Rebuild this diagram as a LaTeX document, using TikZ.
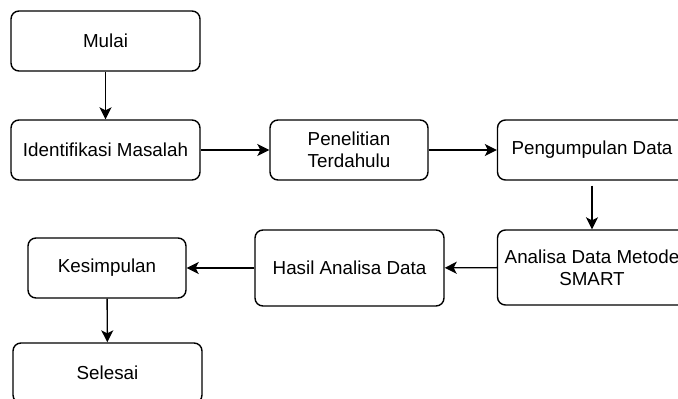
\documentclass[tikz,border=0pt]{standalone}
\usepackage{fontspec}
\setmainfont{Liberation Sans}
\usepackage{tikz}
\usetikzlibrary{arrows.meta}
\usetikzlibrary{positioning}

\begin{document}
\begin{tikzpicture}[x=1pt, y=-1pt]
          \tikzstyle{every node}=[draw, rounded corners=8pt, line width=1.4pt, align=center,
            inner sep=0pt, minimum height=60pt, font=\fontsize{18.8}{22}\selectfont]
          \tikzstyle{wide}=[minimum width=189pt]
          \tikzstyle{narrow}=[minimum width=158pt]
          \tikzstyle{flow}=[line width=1.4pt, -{Stealth[length=12pt,width=12pt,inset=3pt]}]
          \useasboundingbox (0,0) rectangle (678,399);
          \node[wide] (mulai) at (105.5,41) {Mulai};
          \node[wide] (ident) at (105.5,150) {Identifikasi Masalah};
          \node[narrow] (teori) at (349,150) {Penelitian\\Terdahulu};
          \node[wide] (kumpul) at (592,150) {Pengumpulan Data};
          \node[wide, minimum height=75pt] (smart) at (592,267.5) {Analisa Data Metode\\SMART};
          \node[wide, minimum height=76pt] (hasil) at (349.5,268) {Hasil Analisa Data};
          \node[narrow] (simpul) at (107,268) {Kesimpulan};
          \node[wide] (selesai) at (107.5,373) {Selesai};
          \tikzstyle{every node}=[]
          \draw[flow] (mulai) -- (ident);
          \draw[flow] (ident) -- (teori);
          \draw[flow] (teori) -- (kumpul);
          \draw[flow, shorten <=5pt] (kumpul) -- (smart);
          \draw[flow] (smart) -- (hasil);
          \draw[flow] (hasil) -- (simpul);
          \draw[flow] (simpul) -- (selesai);
        \end{tikzpicture}
\end{document}
